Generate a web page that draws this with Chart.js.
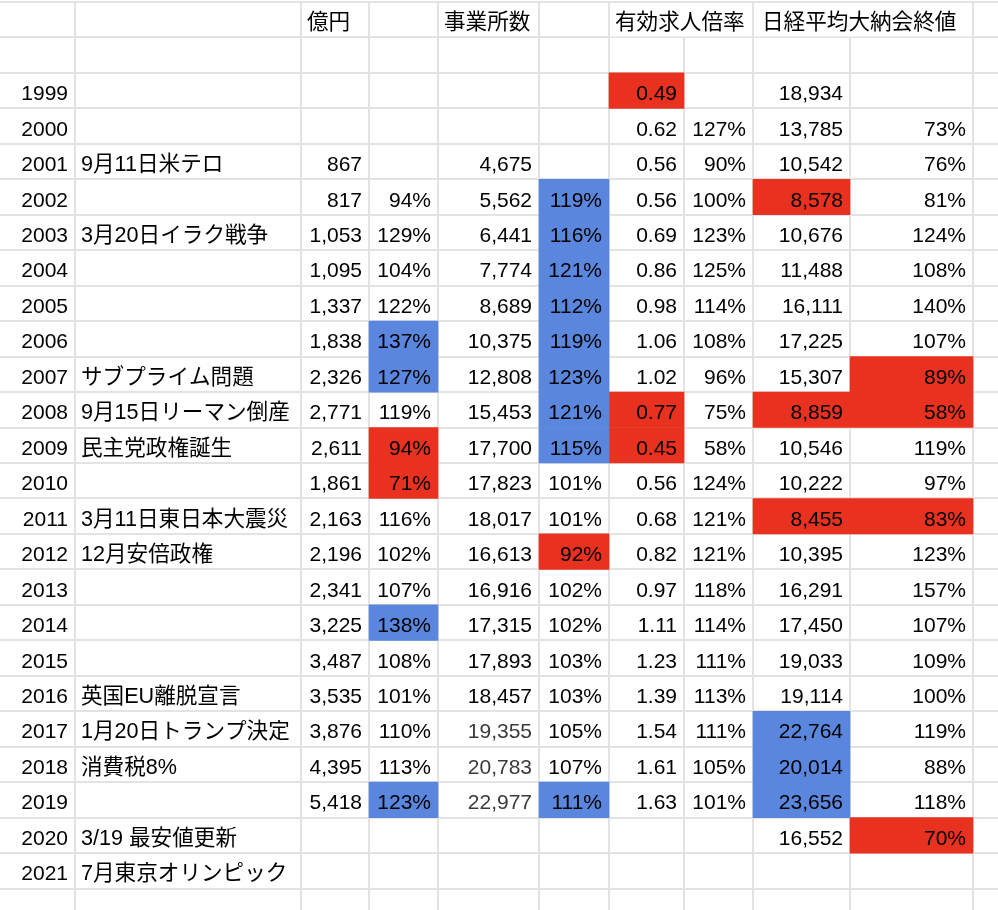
<!DOCTYPE html>
<html>
<head>
<meta charset="utf-8">
<title>億円・事業所数・有効求人倍率・日経平均</title>
<script src="https://cdn.jsdelivr.net/npm/chart.js"></script>
<style>
    html, body {
        margin: 0;
        padding: 0;
        background: #fff;
        overflow: hidden;
    }
    #wrap {
        width: 998px;
        height: 910px;
        overflow: hidden;
    }
</style>
</head>
<body>
<div id="wrap"><canvas id="sheet" width="998" height="924"></canvas></div>
<script>
// 年と出来事
const years = ['1999', '2000', '2001', '2002', '2003', '2004', '2005', '2006', '2007', '2008', '2009', '2010',
    '2011', '2012', '2013', '2014', '2015', '2016', '2017', '2018', '2019', '2020', '2021'];
const events = ['', '', '9月11日米テロ', '', '3月20日イラク戦争', '', '', '', 'サブプライム問題', '9月15日リーマン倒産',
    '民主党政権誕生', '', '3月11日東日本大震災', '12月安倍政権', '', '', '', '英国EU離脱宣言', '1月20日トランプ決定',
    '消費税8%', '', '3/19 最安値更新', '7月東京オリンピック'];

// 億円
const okuen = ['', '', '867', '817', '1,053', '1,095', '1,337', '1,838', '2,326', '2,771', '2,611', '1,861',
    '2,163', '2,196', '2,341', '3,225', '3,487', '3,535', '3,876', '4,395', '5,418', '', ''];
const okuenPct = ['', '', '', '94%', '129%', '104%', '122%', '137%', '127%', '119%', '94%', '71%',
    '116%', '102%', '107%', '138%', '108%', '101%', '110%', '113%', '123%', '', ''];

// 事業所数
const jigyo = ['', '', '4,675', '5,562', '6,441', '7,774', '8,689', '10,375', '12,808', '15,453', '17,700', '17,823',
    '18,017', '16,613', '16,916', '17,315', '17,893', '18,457', '19,355', '20,783', '22,977', '', ''];
const jigyoPct = ['', '', '', '119%', '116%', '121%', '112%', '119%', '123%', '121%', '115%', '101%',
    '101%', '92%', '102%', '102%', '103%', '103%', '105%', '107%', '111%', '', ''];

// 有効求人倍率
const bairitsu = ['0.49', '0.62', '0.56', '0.56', '0.69', '0.86', '0.98', '1.06', '1.02', '0.77', '0.45', '0.56',
    '0.68', '0.82', '0.97', '1.11', '1.23', '1.39', '1.54', '1.61', '1.63', '', ''];
const bairitsuPct = ['', '127%', '90%', '100%', '123%', '125%', '114%', '108%', '96%', '75%', '58%', '124%',
    '121%', '121%', '118%', '114%', '111%', '113%', '111%', '105%', '101%', '', ''];

// 日経平均大納会終値
const nikkei = ['18,934', '13,785', '10,542', '8,578', '10,676', '11,488', '16,111', '17,225', '15,307', '8,859',
    '10,546', '10,222', '8,455', '10,395', '16,291', '17,450', '19,033', '19,114', '22,764', '20,014', '23,656',
    '16,552', ''];
const nikkeiPct = ['', '73%', '76%', '81%', '124%', '108%', '140%', '107%', '89%', '58%', '119%', '97%',
    '83%', '123%', '157%', '107%', '109%', '100%', '119%', '88%', '118%', '70%', ''];

const headers = ['', '', '億円', '', '事業所数', '', '有効求人倍率', '', '日経平均大納会終値', ''];

// 色付きセル (年)
const okuenPctRed = ['2009', '2010'];
const okuenPctBlue = ['2006', '2007', '2014', '2019'];
const jigyoPctRed = ['2012'];
const jigyoPctBlue = ['2002', '2003', '2004', '2005', '2006', '2007', '2008', '2009', '2019'];
const bairitsuRed = ['1999', '2008', '2009'];
const nikkeiRed = ['2002', '2008', '2011'];
const nikkeiBlue = ['2017', '2018', '2019'];
const nikkeiPctRed = ['2007', '2008', '2011', '2020'];
const jigyoGrey = ['2017', '2018', '2019'];

// レイアウト
const colEdges = [0, 75, 301, 369, 438, 539, 609, 684, 753, 850, 973, 998];
const RED = '#e8321f';
const BLUE = '#5a86de';
const GRID = '#e3e3e3';
const FONT = '21px "Liberation Sans", "Noto Sans CJK JP", sans-serif';
const FONT_JP = '21.6px "Liberation Sans", "Noto Sans CJK JP", sans-serif';

const rowLabels = ['header', 'blank'].concat(years, ['tail']);
const columns = [years, events, okuen, okuenPct, jigyo, jigyoPct, bairitsu, bairitsuPct, nikkei, nikkeiPct];

function fillDataset(col, red, blue) {
    const data = rowLabels.map(r => (red.includes(r) || blue.includes(r)) ? [colEdges[col], colEdges[col + 1]] : null);
    const colors = rowLabels.map(r => red.includes(r) ? RED : BLUE);
    return {data: data, backgroundColor: colors, borderWidth: 0, barPercentage: 1, categoryPercentage: 1, grouped: false};
}

const datasets = [
    fillDataset(3, okuenPctRed, okuenPctBlue),
    fillDataset(5, jigyoPctRed, jigyoPctBlue),
    fillDataset(6, bairitsuRed, []),
    fillDataset(8, nikkeiRed, nikkeiBlue),
    fillDataset(9, nikkeiPctRed, [])
];

const cellText = {
    id: 'cellText',
    beforeDatasetsDraw(chart) {
        // 見出しがはみ出す所は縦線を消す
        const {ctx, scales: {x, y}} = chart;
        const half = (y.getPixelForValue(1) - y.getPixelForValue(0)) / 2;
        const yc = y.getPixelForValue(0);
        ctx.save();
        ctx.fillStyle = '#fff';
        [[6, 8], [8, 10]].forEach(([a, b]) => {
            const x0 = x.getPixelForValue(colEdges[a]) + 1;
            const x1 = x.getPixelForValue(colEdges[b]) - 1;
            ctx.fillRect(x0, yc - half + 1, x1 - x0, half * 2 - 2);
        });
        ctx.restore();
    },
    afterDatasetsDraw(chart) {
        const {ctx, scales: {x, y}} = chart;
        ctx.save();
        ctx.textBaseline = 'alphabetic';
        ctx.fillStyle = '#000';
        ctx.textAlign = 'left';
        ctx.font = FONT_JP;
        headers.forEach((h, c) => {
            if (h) ctx.fillText(h, x.getPixelForValue(colEdges[c]) + (c === 8 ? 9 : 6), y.getPixelForValue(0) + 9.5);
        });
        columns.forEach((col, c) => {
            col.forEach((v, i) => {
                if (!v) return;
                const yy = y.getPixelForValue(i + 2) + 9.5;
                ctx.fillStyle = (c === 4 && jigyoGrey.includes(years[i])) ? '#3a3a3a' : '#000';
                if (c === 1) {
                    ctx.font = FONT_JP;
                    ctx.textAlign = 'left';
                    ctx.fillText(v, x.getPixelForValue(colEdges[c]) + 6, yy);
                } else {
                    ctx.font = FONT;
                    ctx.textAlign = 'right';
                    ctx.fillText(v, x.getPixelForValue(colEdges[c + 1]) - 7, yy);
                }
            });
        });
        ctx.restore();
    }
};

new Chart(document.getElementById('sheet').getContext('2d'), {
    type: 'bar',
    data: {labels: rowLabels, datasets: datasets},
    options: {
        indexAxis: 'y',
        responsive: false,
        animation: false,
        events: [],
        layout: {padding: {top: 2, left: 0, right: 0, bottom: 0}},
        plugins: {legend: {display: false}, tooltip: {enabled: false}},
        scales: {
            x: {
                type: 'linear',
                min: 0,
                max: 998,
                afterBuildTicks: s => { s.ticks = colEdges.slice(1, -1).map(v => ({value: v})); },
                afterFit: s => { s.height = 0; },
                ticks: {display: false},
                grid: {color: GRID, lineWidth: 2, drawTicks: false},
                border: {display: false}
            },
            y: {
                type: 'category',
                afterFit: s => { s.width = 0; },
                ticks: {display: false},
                grid: {color: GRID, lineWidth: 2, drawTicks: false, offset: true},
                border: {display: false}
            }
        }
    },
    plugins: [cellText]
});
</script>
</body>
</html>
